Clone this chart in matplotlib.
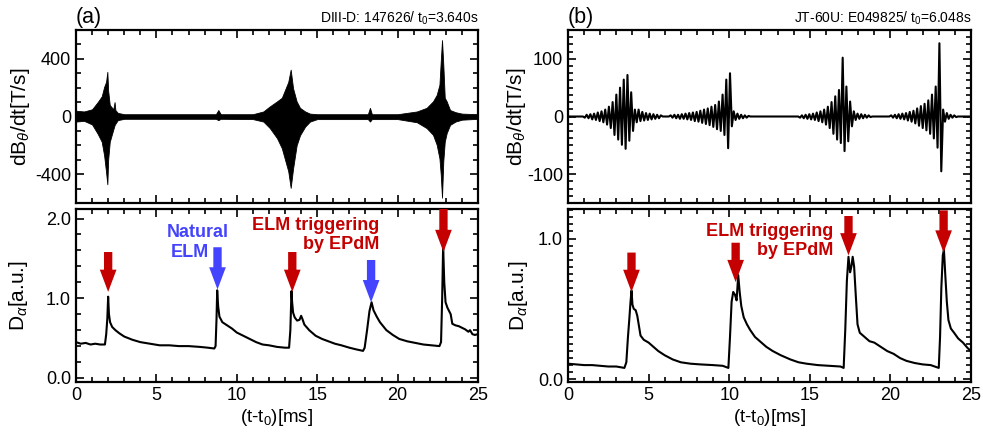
import matplotlib
matplotlib.use("Agg")
import numpy as np
import matplotlib.pyplot as plt
from matplotlib.ticker import MultipleLocator, FixedLocator

plt.rcParams['font.family'] = ['Liberation Sans', 'DejaVu Sans']
plt.rcParams['mathtext.fontset'] = 'custom'
plt.rcParams['mathtext.rm'] = 'Liberation Sans'
plt.rcParams['mathtext.it'] = 'Liberation Sans:italic'
plt.rcParams['axes.unicode_minus'] = False

RED = '#c40000'
BLUE = '#4444ff'

# ---- (a) DIII-D dB/dt : envelope of the dense magnetic signal
a_env_t = [0, 0.5, 1.0, 1.35, 1.6, 1.75, 1.87, 1.95, 2.0, 2.1, 2.32, 2.4, 2.45, 2.6, 3.0,
           5.0, 8.7, 8.85, 9.0, 11.0, 11.65, 12.05, 12.5, 12.8, 13.0, 13.2, 13.35, 13.5,
           13.72, 13.93, 14.25, 14.55, 15.0, 18.15, 18.28, 18.4, 20.0, 21.2, 21.8, 22.2,
           22.43, 22.6, 22.68, 22.76, 22.84, 22.93, 23.05, 23.26, 23.6, 24.0, 25.0]
a_env_hi = [40, 35, 50, 100, 140, 205, 240, 310, 180, 80, 50, 100, 45, 25, 16,
            16, 16, 45, 16, 16, 35, 70, 105, 130, 185, 240, 325, 195,
            105, 60, 35, 20, 16, 16, 60, 16, 16, 35, 60, 105,
            150, 220, 380, 530, 360, 130, 105, 45, 30, 20, 16]
a_env_lo = [-35, -30, -55, -120, -175, -270, -385, -470, -300, -175, -90, -60, -50, -25, -16,
            -16, -16, -25, -16, -18, -35, -80, -150, -220, -300, -380, -495, -360,
            -200, -130, -70, -35, -18, -18, -35, -18, -18, -40, -80, -127,
            -196, -290, -400, -563, -310, -175, -115, -58, -35, -22, -16]

# ---- (a) DIII-D D-alpha
a_da_t = [0, 0.3, 0.6, 0.9, 1.2, 1.5, 1.8, 1.88, 1.95, 2.0, 2.05, 2.12, 2.25, 2.45, 2.7,
          3.0, 3.5, 4.0, 4.6, 5.2, 5.8, 6.4, 7.0, 7.7, 8.2, 8.6, 8.68, 8.74, 8.78, 8.84,
          8.92, 9.1, 9.4, 9.7, 10.0, 10.4, 10.8, 11.2, 11.6, 12.0, 12.5, 13.0, 13.25, 13.33,
          13.4, 13.44, 13.5, 13.6, 13.75, 13.9, 14.0, 14.08, 14.2, 14.5, 14.9, 15.3, 15.7,
          16.1, 16.5, 17.0, 17.4, 17.85, 17.95, 18.1, 18.25, 18.38, 18.5, 18.7, 18.9, 19.3,
          19.7, 20.1, 20.6, 21.1, 21.6, 22.1, 22.6, 22.7, 22.77, 22.83, 22.9, 22.98, 23.1,
          23.3, 23.4, 23.6, 23.8, 24.0, 24.2, 24.4, 24.5, 24.65, 24.8, 25.0]
a_da_v = [0.45, 0.43, 0.44, 0.42, 0.43, 0.42, 0.42, 0.55, 0.75, 1.02, 0.80, 0.70, 0.64, 0.60, 0.56,
          0.52, 0.48, 0.45, 0.43, 0.41, 0.41, 0.40, 0.40, 0.39, 0.38, 0.37, 0.40, 0.75, 1.10, 0.90,
          0.77, 0.70, 0.66, 0.62, 0.57, 0.53, 0.49, 0.45, 0.42, 0.41, 0.39, 0.38, 0.38, 0.60,
          1.09, 0.95, 0.82, 0.76, 0.72, 0.73, 0.78, 0.74, 0.67, 0.60, 0.53, 0.49, 0.46,
          0.43, 0.41, 0.38, 0.36, 0.34, 0.38, 0.60, 0.84, 0.95, 0.85, 0.77, 0.70, 0.60,
          0.54, 0.49, 0.46, 0.44, 0.42, 0.41, 0.40, 0.45, 1.00, 1.65, 1.20, 0.95, 0.88,
          0.80, 0.68, 0.66, 0.65, 0.63, 0.61, 0.58, 0.60, 0.55, 0.54, 0.55]

# ---- (b) JT-60U dB/dt : extrema of each oscillation burst (start time, values)
b_half_period = 0.115
b_bursts = [
    (1.045, [-2, 3, -3, 4, -5, 5, -6, 7, -8, 9, -10, 12, -14, 17, -20, 25, -32, 38, -40, 50,
             -49, 64, -56, 72, -42, 42, -25, 12, -10, 12, -8, 8, -7, 6, -6, 5, -5, 4, -4, 3,
             -3, 2]),
    (6.37, [2, -2, 3, -3, 3, -4, 4, -4, 5, -5, 6, -6, 7, -8, 8, -9, 10, -11, 12, -13, 14,
            -15, 17, -18, 20, -22, 26, -25, 38, -32, 64, -55, 75, -17, 9, -6, 5, -4, 3, -3,
            2, -2, 1]),
    (14.395, [-2, 2, -3, 3, -4, 4, -5, 5, -6, 7, -8, 9, -10, 12, -14, 17, -20, 25, -30, 35,
              -40, 46, -46, 102, -60, 52, -43, 26, -17, 9, -6, 5, -4, 4, -3, 3, -2, 2, -1]),
    (20.05, [2, -2, 3, -3, 4, -4, 5, -5, 6, -7, 8, -9, 10, -12, 14, -16, 18, -20, 22, -24,
             28, -30, 38, -38, 52, -54, 127, -95, 12, -9, 6, -4, 3, -2, 2, -1]),
]

# ---- (b) JT-60U D-alpha
b_da_t = [0, 0.5, 1.0, 1.5, 2.0, 2.5, 3.0, 3.5, 3.62, 3.72, 3.8, 3.88, 3.94, 4.0, 4.08, 4.2,
          4.3, 4.4, 4.5, 4.7, 5.0, 5.3, 5.6, 6.0, 6.5, 7.0, 7.6, 8.2, 9.0, 9.6, 9.95, 10.05,
          10.15, 10.25, 10.36, 10.46, 10.56, 10.65, 10.75, 10.9, 11.1, 11.3, 11.6, 11.9, 12.3,
          12.7, 13.2, 13.8, 14.3, 14.8, 15.5, 16.2, 16.9, 17.1, 17.2, 17.3, 17.4, 17.5, 17.58,
          17.66, 17.75, 17.85, 17.96, 18.1, 18.4, 18.7, 19.0, 19.4, 19.8, 20.2, 20.6, 21.0,
          21.5, 22.0, 22.5, 23.0, 23.08, 23.16, 23.25, 23.32, 23.4, 23.5, 23.6, 23.75, 23.95,
          24.2, 24.5, 24.8, 25.0]
b_da_v = [0.11, 0.105, 0.10, 0.10, 0.095, 0.09, 0.09, 0.08, 0.12, 0.30, 0.42, 0.55, 0.63, 0.53,
          0.50, 0.49, 0.45, 0.38, 0.31, 0.28, 0.26, 0.23, 0.20, 0.17, 0.14, 0.12, 0.11, 0.105,
          0.10, 0.095, 0.08, 0.30, 0.55, 0.62, 0.60, 0.56, 0.74, 0.62, 0.52, 0.44, 0.39, 0.35,
          0.30, 0.27, 0.23, 0.20, 0.17, 0.14, 0.12, 0.11, 0.10, 0.095, 0.09, 0.08, 0.35, 0.70,
          0.87, 0.76, 0.80, 0.87, 0.80, 0.60, 0.39, 0.33, 0.30, 0.27, 0.26, 0.23, 0.20, 0.18,
          0.15, 0.13, 0.115, 0.105, 0.10, 0.08, 0.30, 0.65, 0.88, 0.92, 0.75, 0.55, 0.42, 0.36,
          0.33, 0.29, 0.26, 0.22, 0.20]

# arrows: time, tail y, tip y, colour
a_arrows = [(2.0, 1.58, 1.08, RED), (8.8, 1.64, 1.11, BLUE), (13.45, 1.58, 1.08, RED),
            (18.35, 1.48, 0.95, BLUE), (22.85, 2.12, 1.58, RED)]
b_arrows = [(3.94, 0.90, 0.62, RED), (10.4, 0.97, 0.69, RED), (17.4, 1.16, 0.88, RED),
            (23.3, 1.20, 0.90, RED)]


def style(ax, ymajor, yminor, showx):
    ax.set_xlim(0, 25)
    ax.xaxis.set_major_locator(MultipleLocator(5))
    ax.xaxis.set_minor_locator(MultipleLocator(1))
    ax.yaxis.set_major_locator(FixedLocator(ymajor))
    ax.yaxis.set_minor_locator(MultipleLocator(yminor))
    ax.tick_params(which='both', direction='in', top=True, right=True, labelsize=13,
                   width=1.2, colors='black')
    ax.tick_params(which='major', length=6)
    ax.tick_params(which='minor', length=3.5)
    for s in ax.spines.values():
        s.set_linewidth(1.6)
    if not showx:
        ax.tick_params(labelbottom=False)
    else:
        ax.set_xlabel('(t-t$_0$)[ms]', fontsize=13.5, labelpad=2)


def arrow(ax, t, ytail, ytip, c):
    ax.annotate('', xy=(t, ytip), xytext=(t, ytail),
                arrowprops=dict(arrowstyle='simple,head_width=1.2,head_length=1.6,tail_width=0.6',
                                color=c, mutation_scale=10, shrinkA=0, shrinkB=0, lw=0),
                annotation_clip=False)


fig = plt.figure(figsize=(9.83, 4.38), dpi=100)
W = 0.409
H = 0.395
axa1 = fig.add_axes([0.0773, 0.5365, W, H])
axa2 = fig.add_axes([0.0773, 0.1279, W, H])
axb1 = fig.add_axes([0.5778, 0.5365, W + 0.001, H])
axb2 = fig.add_axes([0.5778, 0.1279, W + 0.001, H])

# (a) top
axa1.fill_between(a_env_t, a_env_lo, a_env_hi, color='black', lw=0.6, edgecolor='black')
axa1.set_ylim(-600, 600)
style(axa1, [-400, 0, 400], 100, False)
axa1.set_ylabel(r'dB$_\theta$/dt[T/s]', fontsize=15)
axa1.yaxis.set_label_coords(-0.11, 0.5)
axa1.text(0.0, 1.01, '(a)', transform=axa1.transAxes, fontsize=15.5, ha='left', va='bottom')
axa1.text(1.0, 1.02, 'DIII-D: 147626/ t$_0$=3.640s', transform=axa1.transAxes,
          fontsize=10, ha='right', va='bottom')

# (a) bottom
axa2.plot(a_da_t, a_da_v, color='black', lw=1.5)
axa2.set_ylim(-0.05, 2.12)
style(axa2, [0, 1, 2], 0.2, True)
axa2.yaxis.set_major_formatter(plt.FormatStrFormatter('%.1f'))
axa2.set_ylabel(r'D$_\alpha$[a.u.]', fontsize=15)
axa2.yaxis.set_label_coords(-0.115, 0.5)
for t, y0, y1, c in a_arrows:
    arrow(axa2, t, y0, y1, c)
axa2.text(7.6, 1.82, 'Natural', color=BLUE, fontsize=13, fontweight='bold',
          ha='center', va='center')
axa2.text(7.1, 1.58, 'ELM', color=BLUE, fontsize=13, fontweight='bold',
          ha='center', va='center')
axa2.text(18.85, 1.79, 'ELM triggering\nby EPdM', color=RED, fontsize=13,
          fontweight='bold', ha='right', va='center', linespacing=1.15)

# (b) top
bt = [0.0]
bv = [0.0]
for t0, vals in b_bursts:
    bt.append(t0 - b_half_period)
    bv.append(0.0)
    for k, v in enumerate(vals):
        bt.append(t0 + k * b_half_period)
        bv.append(v)
    bt.append(t0 + len(vals) * b_half_period)
    bv.append(0.0)
bt.append(25.0)
bv.append(0.0)
axb1.plot(bt, bv, color='black', lw=1.5)
axb1.set_ylim(-150, 150)
style(axb1, [-100, 0, 100], 12.5, False)
axb1.set_ylabel(r'dB$_\theta$/dt[T/s]', fontsize=15)
axb1.yaxis.set_label_coords(-0.1, 0.5)
axb1.text(0.0, 1.01, '(b)', transform=axb1.transAxes, fontsize=15.5, ha='left', va='bottom')
axb1.text(1.0, 1.02, 'JT-60U: E049825/ t$_0$=6.048s', transform=axb1.transAxes,
          fontsize=10, ha='right', va='bottom')

# (b) bottom
axb2.plot(b_da_t, b_da_v, color='black', lw=1.5)
axb2.set_ylim(-0.02, 1.21)
style(axb2, [0, 1], 0.05, True)
axb2.yaxis.set_major_formatter(plt.FormatStrFormatter('%.1f'))
axb2.set_ylabel(r'D$_\alpha$[a.u.]', fontsize=15)
axb2.yaxis.set_label_coords(-0.093, 0.5)
for t, y0, y1, c in b_arrows:
    arrow(axb2, t, y0, y1, c)
axb2.text(16.45, 0.98, 'ELM triggering\nby EPdM', color=RED, fontsize=13,
          fontweight='bold', ha='right', va='center', linespacing=1.15)

fig.savefig('out.png', dpi=100)
